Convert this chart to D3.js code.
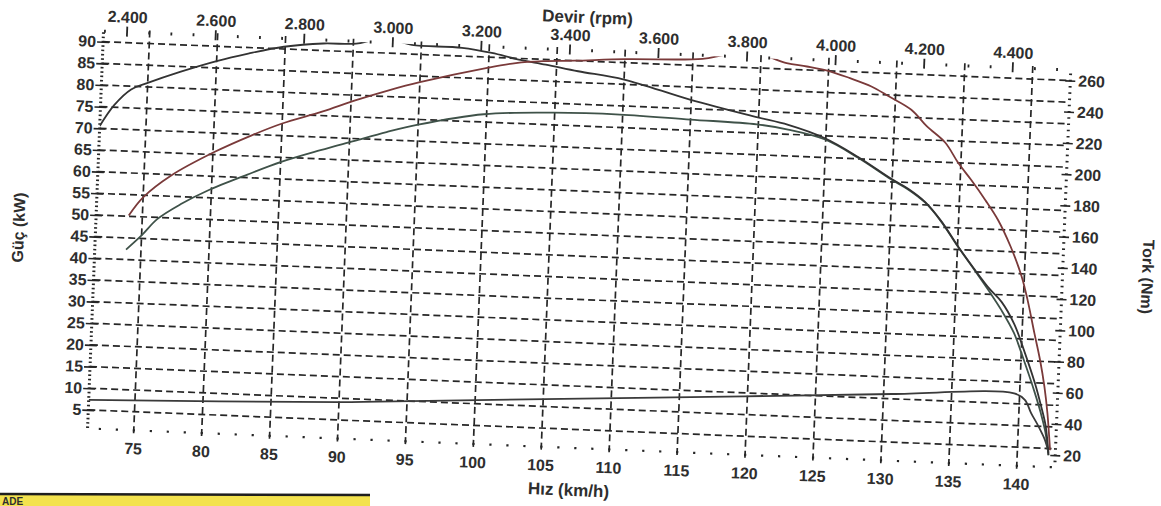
<!DOCTYPE html>
<html>
<head>
<meta charset="utf-8">
<script src="https://cdn.jsdelivr.net/npm/d3@7"></script>
<style>
body { margin: 0; background: #fff; }
text { font-family: "Liberation Sans", Arial, sans-serif; font-weight: bold; fill: #2e2e2e; }
</style>
</head>
<body>
<svg width="1161" height="506"></svg>
<script>
// tick values
var speedTicks = d3.range(75, 141, 5);
var powerTicks = d3.range(5, 91, 5);
var torqueTicks = d3.range(20, 261, 20);
var rpmTicks = d3.range(2400, 4401, 200);

// curves: [km/h, value]
var torque = [[71.6,206],[72.6,219.7],[73.8,230.2],[74.9,234.4],[77.4,242.8],[80,250.5],[82.3,256.1],[84.9,261.4],
  [87.8,264.5],[90.2,265.2],[91.5,268],[93,268.3],[94.3,265.9],[98,265.3],[100.2,262.8],[102.2,259.2],[104.2,256.7],
  [106.6,253.3],[110,249.2],[114.9,238],[119.7,228.8],[122.2,224.4],[124.9,216.9],[127.4,205.8],[129.9,192.7],
  [131.2,186.6],[132.5,178.5],[133.7,167.1],[135,151.5],[136.3,137],[137.5,124.5],[138.4,116.7],[139.4,102.8],
  [140.2,86.1],[141.1,65.3],[141.6,51.4],[142,38.8],[142.3,20]];

var motorPower = [[74,50.2],[75,54.5],[77,59.8],[80.1,65.6],[82.8,69.8],[85,72.8],[87.9,75.9],[90.3,78.8],[92.8,81.5],
  [95,83.6],[100,87.6],[102,88.9],[104,89.6],[106.3,90],[110,90.8],[115.7,91.6],[117.5,92.8],[120,93],[121.9,91.4],
  [123.4,90.8],[125.1,89.9],[126.6,88.5],[128.2,86.8],[129.5,84.7],[131.2,81.8],[132.4,78.1],[133.8,74.5],
  [134.8,70],[135.8,66.2],[136.9,61.7],[137.9,57.2],[138.9,51.2],[139.8,44.4],[140.3,39.1],[140.9,31.5],
  [141.4,25.3],[141.8,19.2],[142.1,13.1],[142.4,4.6]];

var wheelPower = [[73.9,42.3],[75,45.7],[76.1,49.6],[77.8,53.3],[79.7,56.6],[82.6,60.7],[85.1,64],[87.9,67],
  [90.3,69.4],[92.7,71.8],[95,73.8],[99.8,76.8],[104.9,77.8],[109.8,78],[115,77.5],[119.9,77],[122.2,76.1],
  [124.9,74.2],[127.4,70.3],[129.9,65.6],[131.2,63.4],[132.5,60.5],[133.7,56.4],[135,50.8],[136.3,45.5],
  [137.5,40.5],[138.4,36.5],[139.4,31.3],[140.2,25.2],[141.1,17.8],[141.6,13.2],[142,8.8],[142.3,3.4]];

var lossPower = [[71.6,7.3],[90,9.1],[92.9,9.6],[105.1,11.7],[119.8,14.2],[130.6,16.1],[139.6,17.4],[140.4,16],
  [140.9,13],[141.5,9.9],[142,6.9],[142.3,4]];

var plotL = 95, plotR = 1063, plotT = 51, plotB = 448;

var x = d3.scaleLinear().domain([71.6, 142.8]).range([plotL, plotR]);
var xRpm = d3.scaleLinear().domain([2346.8, 4530.9]).range([plotL, plotR]);
var yP = d3.scaleLinear().domain([0.73, 92.31]).range([plotB, plotT]);
var yT = d3.scaleLinear().domain([12.3, 266.4]).range([plotB, plotT]);

var rpmFormat = d3.formatLocale({ decimal: ",", thousands: ".", grouping: [3], currency: ["", ""] }).format(",");

var svg = d3.select("svg");

// edge of the yellow form below the sheet
svg.append("rect").attr("x", 0).attr("y", 495).attr("width", 370).attr("height", 11).attr("fill", "#f3e24e");
svg.append("line").attr("x1", 0).attr("x2", 370).attr("y1", 494).attr("y2", 495)
  .attr("stroke", "#1e1e1e").attr("stroke-width", 2.5);
svg.append("text").attr("x", 2).attr("y", 505).attr("font-size", 10).attr("fill", "#111").text("ADE");

// scanned sheet is a little skewed
var g = svg.append("g").attr("transform", "rotate(2.3,580,253)");

g.append("clipPath").attr("id", "plot")
  .append("rect").attr("x", plotL).attr("y", plotT).attr("width", plotR - plotL).attr("height", plotB - plotT);

var ink = "#262626";

// dashed grid
g.append("g").selectAll("line").data(powerTicks).enter().append("line")
  .attr("x1", plotL).attr("x2", plotR)
  .attr("y1", function (d) { return yP(d); })
  .attr("y2", function (d) { return yP(d); })
  .attr("stroke", ink).attr("stroke-width", 1.7).attr("stroke-dasharray", "7,4");

g.append("g").selectAll("line").data(speedTicks).enter().append("line")
  .attr("x1", function (d) { return x(d); })
  .attr("x2", function (d) { return x(d); })
  .attr("y1", plotT - 3).attr("y2", plotB + 6)
  .attr("stroke", ink).attr("stroke-width", 1.7).attr("stroke-dasharray", "7,4");

// left axis (kW)
var axL = g.append("g").attr("transform", "translate(" + plotL + ",0)")
  .call(d3.axisLeft(yP).tickValues(powerTicks).tickSize(6).tickPadding(1));
axL.select(".domain").remove();
axL.selectAll(".tick line").attr("x1", 6).attr("stroke", ink).attr("stroke-width", 1.6);
axL.selectAll(".tick text").attr("font-size", 16).attr("font-family", null);
axL.selectAll(".minor").data(d3.range(1, 93, 1)).enter().append("line")
  .attr("class", "minor").attr("x1", -1.5).attr("x2", 1.5)
  .attr("y1", function (d) { return yP(d); }).attr("y2", function (d) { return yP(d); })
  .attr("stroke", ink).attr("stroke-width", 1.6);

// right axis (Nm)
var axR = g.append("g").attr("transform", "translate(" + plotR + ",0)")
  .call(d3.axisRight(yT).tickValues(torqueTicks).tickSize(5).tickPadding(3));
axR.select(".domain").remove();
axR.selectAll(".tick line").attr("x1", -5).attr("stroke", ink).attr("stroke-width", 1.6);
axR.selectAll(".tick text").attr("font-size", 16).attr("font-family", null);
axR.selectAll(".minor").data(d3.range(16, 266, 4)).enter().append("line")
  .attr("class", "minor").attr("x1", -1.5).attr("x2", 1.5)
  .attr("y1", function (d) { return yT(d); }).attr("y2", function (d) { return yT(d); })
  .attr("stroke", ink).attr("stroke-width", 1.6);

// bottom dots + labels (km/h)
g.append("g").selectAll("rect").data(d3.range(72.5, 142.8, 1.25)).enter().append("rect")
  .attr("x", function (d) { return x(d) - 1; })
  .attr("y", plotB - 1)
  .attr("width", 2.2).attr("height", 2.2)
  .attr("fill", ink);

g.append("g").selectAll("text").data(speedTicks).enter().append("text")
  .attr("x", function (d) { return x(d); })
  .attr("y", plotB + 24)
  .attr("text-anchor", "middle").attr("font-size", 16)
  .text(function (d) { return d; });

// top axis (rpm)
g.append("g").selectAll("line").data(d3.range(2350, 4531, 50)).enter().append("line")
  .attr("x1", function (d) { return xRpm(d); })
  .attr("x2", function (d) { return xRpm(d); })
  .attr("y1", function (d) { return d % 200 === 0 ? plotT - 6 : plotT - 2; })
  .attr("y2", function (d) { return d % 200 === 0 ? plotT + 4 : plotT + 1; })
  .attr("stroke", ink).attr("stroke-width", 1.8);

g.append("g").selectAll("text").data(rpmTicks).enter().append("text")
  .attr("x", function (d) { return xRpm(d); })
  .attr("y", plotT - 10)
  .attr("text-anchor", "middle").attr("font-size", 16)
  .text(function (d) { return rpmFormat(d); });

// titles
g.append("text").attr("x", 578).attr("y", 23).attr("text-anchor", "middle").attr("font-size", 17).text("Devir (rpm)");
g.append("text").attr("x", 578).attr("y", 496).attr("text-anchor", "middle").attr("font-size", 17).text("Hız (km/h)");
g.append("text").attr("transform", "translate(18,250) rotate(-90)").attr("dy", "0.35em")
  .attr("text-anchor", "middle").attr("font-size", 16).text("Güç (kW)");
g.append("text").attr("transform", "translate(1148,254) rotate(90)").attr("dy", "0.35em")
  .attr("text-anchor", "middle").attr("font-size", 16).text("Tork (Nm)");

// curves
var curves = g.append("g").attr("clip-path", "url(#plot)").attr("fill", "none").attr("stroke-width", 1.8);

var lineP = d3.line().curve(d3.curveCatmullRom.alpha(0.5))
  .x(function (d) { return x(d[0]); })
  .y(function (d) { return yP(d[1]); });
var lineT = d3.line().curve(d3.curveCatmullRom.alpha(0.5))
  .x(function (d) { return x(d[0]); })
  .y(function (d) { return yT(d[1]); });

curves.append("path").attr("d", lineP(lossPower)).attr("stroke", "#3a3a3a");
curves.append("path").attr("d", lineP(wheelPower)).attr("stroke", "#3f5249");
curves.append("path").attr("d", lineT(torque)).attr("stroke", "#333");
curves.append("path").attr("d", lineP(motorPower)).attr("stroke", "#7a3a3a");
</script>
</body>
</html>
